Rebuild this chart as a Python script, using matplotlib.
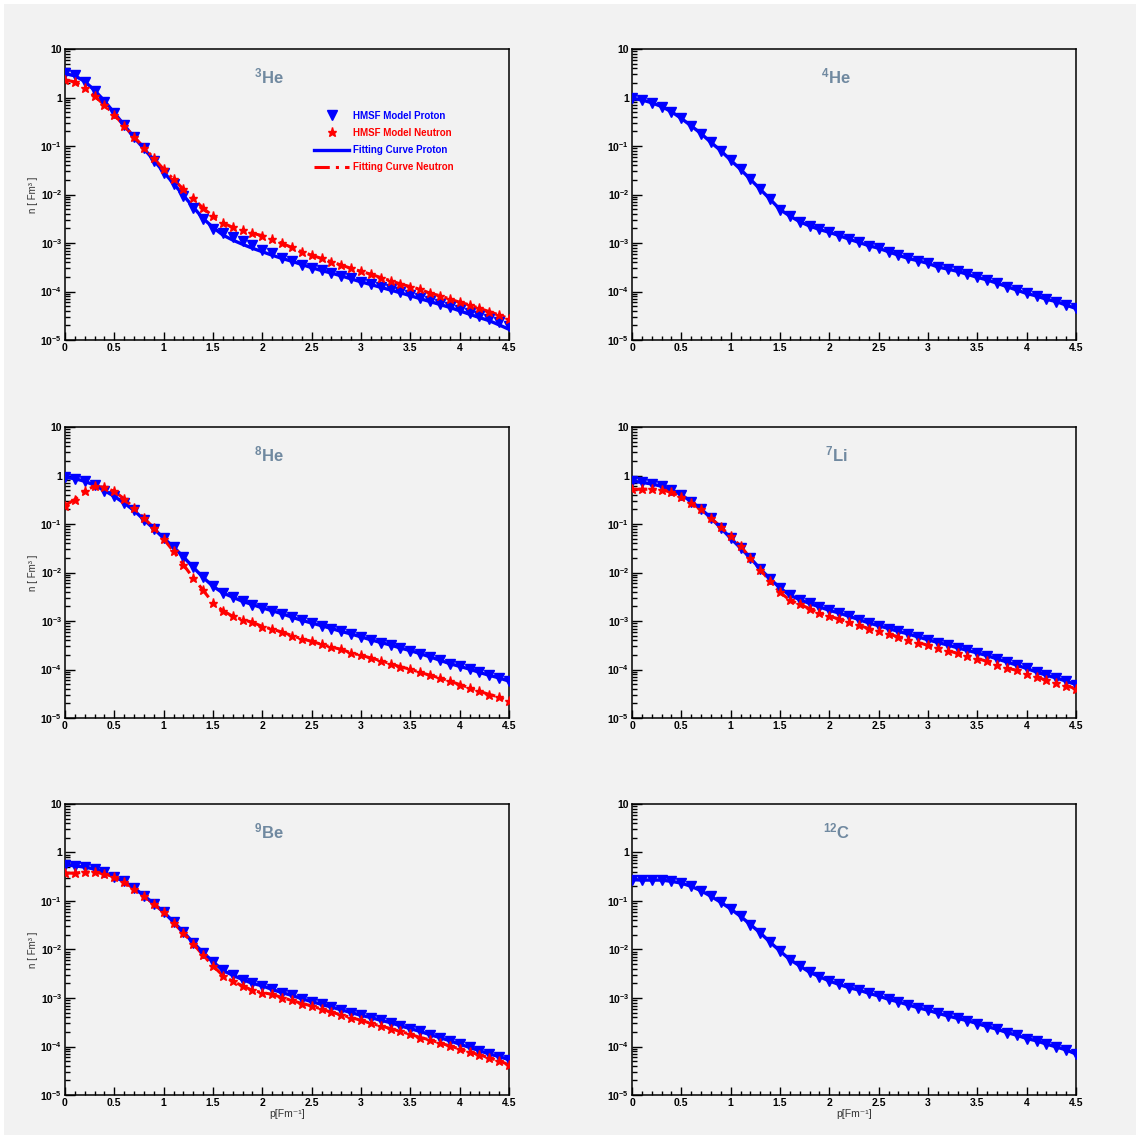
import numpy as np
import matplotlib
matplotlib.use("Agg")
import matplotlib.pyplot as plt
from matplotlib.patches import Rectangle
from matplotlib.ticker import FixedLocator, MultipleLocator, NullFormatter

plt.rcParams['font.family'] = ['Liberation Sans', 'DejaVu Sans']
plt.rcParams['mathtext.fontset'] = 'custom'
plt.rcParams['mathtext.rm'] = 'Liberation Sans:bold'
plt.rcParams['mathtext.it'] = 'Liberation Sans:bold'
plt.rcParams['mathtext.bf'] = 'Liberation Sans:bold'
plt.rcParams['mathtext.default'] = 'rm'

# momentum grid p [Fm^-1]
p = np.linspace(0, 4.5, 46)

# momentum distributions n(p)
he3_p = [3.15, 2.9, 2.1, 1.36, 0.82, 0.47, 0.27, 0.15, 0.089, 0.05,
         0.028, 0.0166, 0.0094, 0.0052, 0.0031, 0.00195, 0.0016, 0.0013, 0.0011, 0.00091,
         0.00072, 0.00063, 0.0005, 0.00043, 0.00036, 0.00031, 0.00028, 0.000245, 0.000213, 0.000187,
         0.000159, 0.000143, 0.000126, 0.000111, 0.000098, 0.000085, 0.000075, 0.000065, 0.000055, 0.000049,
         0.000042, 0.0000355, 0.0000313, 0.0000268, 0.0000231, 0.0000194]
he3_p_fit = [3.1, 2.8, 2.15, 1.4, 0.85, 0.48, 0.27, 0.15, 0.088, 0.051,
             0.029, 0.0168, 0.0096, 0.0055, 0.0032, 0.0021, 0.00146, 0.00115, 0.00094, 0.00078,
             0.00066, 0.00056, 0.00048, 0.00042, 0.00036, 0.00031, 0.00027, 0.00024, 0.00021, 0.000182,
             0.000158, 0.000139, 0.000122, 0.000107, 0.000094, 0.000082, 0.000071, 0.000062, 0.000054, 0.000047,
             0.00004, 0.000034, 0.000029, 0.000025, 0.0000205, 0.0000166]
he3_n = [2.3, 2.1, 1.55, 1.07, 0.70, 0.44, 0.26, 0.155, 0.093, 0.056,
         0.033, 0.0206, 0.0128, 0.0083, 0.0052, 0.0036, 0.0026, 0.0021, 0.00185, 0.00158,
         0.00142, 0.0012, 0.00098, 0.00081, 0.00066, 0.00056, 0.00048, 0.00041, 0.00035, 0.0003,
         0.00026, 0.000227, 0.000194, 0.000167, 0.000143, 0.000126, 0.000111, 0.000092, 0.000082, 0.00007,
         0.00006, 0.000053, 0.000045, 0.0000384, 0.0000328, 0.0000276]

he4_p = [0.96, 0.89, 0.78, 0.65, 0.51, 0.37, 0.26, 0.18, 0.119, 0.08,
         0.051, 0.033, 0.0206, 0.0128, 0.008, 0.0049, 0.0036, 0.00275, 0.00224, 0.0019,
         0.00166, 0.00142, 0.0012, 0.00103, 0.00088, 0.00078, 0.00066, 0.00056, 0.00048, 0.00043,
         0.00038, 0.00032, 0.00029, 0.00026, 0.000226, 0.000196, 0.000173, 0.000148, 0.000126, 0.000107,
         0.000091, 0.000081, 0.000069, 0.000062, 0.0000525, 0.0000447]

he8_p = [0.92, 0.86, 0.76, 0.63, 0.49, 0.37, 0.27, 0.19, 0.123, 0.08,
         0.051, 0.0336, 0.021, 0.0128, 0.0079, 0.0052, 0.0038, 0.0031, 0.00254, 0.00218,
         0.00186, 0.00163, 0.00141, 0.0012, 0.00103, 0.00091, 0.0008, 0.0007, 0.00061, 0.00054,
         0.00047, 0.00041, 0.00036, 0.00032, 0.000277, 0.000245, 0.000212, 0.000182, 0.000155, 0.000132,
         0.000116, 0.000102, 0.000087, 0.000076, 0.000067, 0.0000575]
he8_n = [0.24, 0.32, 0.49, 0.6, 0.57, 0.47, 0.33, 0.214, 0.133, 0.083,
         0.049, 0.0274, 0.0145, 0.0077, 0.0043, 0.00236, 0.00163, 0.00125, 0.00107, 0.00094,
         0.00077, 0.00068, 0.00059, 0.0005, 0.00043, 0.00038, 0.00033, 0.00029, 0.00026, 0.00022,
         0.000196, 0.000173, 0.000152, 0.000132, 0.000113, 0.000102, 0.000087, 0.000076, 0.000067, 0.0000575,
         0.000049, 0.000042, 0.0000356, 0.0000305, 0.0000271, 0.0000219]

li7_p = [0.76, 0.72, 0.67, 0.6, 0.51, 0.40, 0.29, 0.204, 0.133, 0.083,
         0.051, 0.032, 0.0199, 0.0118, 0.0074, 0.0048, 0.0034, 0.00276, 0.0023, 0.00195,
         0.00166, 0.00146, 0.00125, 0.00107, 0.00091, 0.0008, 0.0007, 0.00061, 0.00054, 0.00047,
         0.00041, 0.00036, 0.00032, 0.00028, 0.000248, 0.000219, 0.000193, 0.000165, 0.000143, 0.000123,
         0.000105, 0.000089, 0.000076, 0.000067, 0.0000575, 0.000049]
li7_n = [0.52, 0.52, 0.52, 0.51, 0.45, 0.36, 0.27, 0.2, 0.133, 0.087,
         0.056, 0.035, 0.02, 0.0115, 0.0066, 0.0039, 0.0027, 0.0022, 0.0018, 0.00146,
         0.00125, 0.0011, 0.00094, 0.00081, 0.0007, 0.00061, 0.00054, 0.00047, 0.00041, 0.00036,
         0.000315, 0.000277, 0.000245, 0.000215, 0.000193, 0.000167, 0.000148, 0.000126, 0.000107, 0.000096,
         0.000082, 0.00007, 0.00006, 0.0000526, 0.0000467, 0.00004]

be9_p = [0.56, 0.53, 0.5, 0.455, 0.39, 0.31, 0.253, 0.185, 0.129, 0.088,
         0.059, 0.037, 0.0229, 0.0138, 0.0086, 0.0056, 0.0037, 0.00295, 0.0024, 0.002,
         0.00178, 0.0015, 0.00129, 0.00113, 0.00097, 0.00084, 0.00074, 0.00065, 0.00057, 0.0005,
         0.00044, 0.000395, 0.000347, 0.00031, 0.000266, 0.000234, 0.000204, 0.000175, 0.000153, 0.000131,
         0.000112, 0.000096, 0.000082, 0.00007, 0.000062, 0.0000535]
be9_n = [0.375, 0.375, 0.395, 0.39, 0.365, 0.31, 0.245, 0.18, 0.125, 0.087,
         0.059, 0.035, 0.022, 0.0131, 0.0076, 0.0046, 0.0029, 0.0022, 0.00178, 0.00144,
         0.00129, 0.00119, 0.00102, 0.00089, 0.00077, 0.00069, 0.00059, 0.00051, 0.00045, 0.000395,
         0.000347, 0.0003, 0.000266, 0.000234, 0.000204, 0.000179, 0.000153, 0.000137, 0.000118, 0.000103,
         0.000089, 0.000076, 0.000068, 0.0000578, 0.000051, 0.0000416]

c12_p = [0.275, 0.27, 0.27, 0.27, 0.254, 0.234, 0.2, 0.163, 0.125, 0.094,
         0.0686, 0.0484, 0.0327, 0.022, 0.0141, 0.0093, 0.0062, 0.0046, 0.0034, 0.00275,
         0.00224, 0.0019, 0.00163, 0.00146, 0.00125, 0.0011, 0.00094, 0.00083, 0.00072, 0.00063,
         0.00056, 0.000485, 0.000427, 0.00038, 0.00034, 0.000297, 0.000257, 0.000227, 0.000194, 0.000171,
         0.000146, 0.000131, 0.000112, 0.000098, 0.000085, 0.00007]

# (mass number, element, proton points, proton fit, neutron points)
panels = [
    ('3', 'He', he3_p, he3_p_fit, he3_n),
    ('4', 'He', he4_p, he4_p, None),
    ('8', 'He', he8_p, he8_p, he8_n),
    ('7', 'Li', li7_p, li7_p, li7_n),
    ('9', 'Be', be9_p, be9_p, be9_n),
    ('12', 'C', c12_p, c12_p, None),
]

decades = [1e-5, 1e-4, 1e-3, 1e-2, 1e-1, 1, 10]
decade_labels = [r'$10^{-5}$', r'$10^{-4}$', r'$10^{-3}$', r'$10^{-2}$', r'$10^{-1}$', '1', '10']
minor_y = [m * d for d in decades[:-1] for m in range(2, 10)]

W, H = 1136, 1135
fig = plt.figure(figsize=(W / 100, H / 100), dpi=100)
fig.patch.set_facecolor('white')
fig.patches.append(Rectangle((4 / W, 0), 1 - 4 / W, 1 - 4 / H, transform=fig.transFigure,
                             facecolor='#f2f2f2', edgecolor='none', zorder=-10))

lefts = [65, 632]
tops = [49, 427, 804]
aw, ah = 444, 291
title_color = '#7089a0'
grey = '#f2f2f2'

for i, (mass, elem, prot, prot_fit, neut) in enumerate(panels):
    row, col = divmod(i, 2)
    x0 = lefts[col] / W
    y0 = 1 - (tops[row] + ah) / H
    ax = fig.add_axes([x0, y0, aw / W, ah / H])
    ax.set_facecolor(grey)

    ax.plot(p, prot_fit, color='blue', lw=2.4, zorder=2, label='Fitting Curve Proton')
    if neut is not None:
        ax.plot(p, neut, color='red', lw=2.2, ls=(0, (5, 2, 1, 2)), zorder=2,
                label='Fitting Curve Neutron')
    ax.plot(p, prot, 'v', color='blue', ms=6.5, zorder=3, label='HMSF Model Proton')
    if neut is not None:
        ax.plot(p, neut, '*', color='red', ms=6.5, zorder=3, label='HMSF Model Neutron')

    ax.set_yscale('log')
    ax.set_xlim(0, 4.5)
    ax.set_ylim(1e-5, 10)
    ax.yaxis.set_major_locator(FixedLocator(decades))
    ax.set_yticklabels(decade_labels)
    ax.yaxis.set_minor_locator(FixedLocator(minor_y))
    ax.yaxis.set_minor_formatter(NullFormatter())
    ax.xaxis.set_minor_locator(MultipleLocator(0.1))
    ax.set_xticks(np.arange(0, 4.51, 0.5))
    ax.set_xticklabels(['0', '0.5', '1', '1.5', '2', '2.5', '3', '3.5', '4', '4.5'])

    ax.tick_params(axis='both', which='both', direction='in', top=False, right=False,
                   width=1.0, labelsize=7.5, pad=2)
    ax.tick_params(axis='y', which='major', length=7)
    ax.tick_params(axis='y', which='minor', length=3.5)
    ax.tick_params(axis='x', which='major', length=5.5)
    ax.tick_params(axis='x', which='minor', length=3)
    for lab in ax.get_xticklabels() + ax.get_yticklabels():
        lab.set_fontweight('bold')
    for sp in ax.spines.values():
        sp.set_linewidth(1.1)

    ax.text(0.46, 0.905, r'$^{%s}$%s' % (mass, elem), transform=ax.transAxes,
            ha='center', va='center', fontsize=12, fontweight='bold', color=title_color)

    if col == 0:
        ax.set_ylabel('n [ Fm³ ]', fontsize=7, color='#333333', labelpad=1.5)
    if row == 2:
        ax.set_xlabel('p[Fm⁻¹]', fontsize=7.5, color='#333333', labelpad=1)

    if i == 0:
        h, l = ax.get_legend_handles_labels()
        order = ['HMSF Model Proton', 'HMSF Model Neutron', 'Fitting Curve Proton', 'Fitting Curve Neutron']
        hh = [h[l.index(o)] for o in order]
        ax.legend(hh, order, loc='upper left', bbox_to_anchor=(0.55, 0.805), frameon=False,
                  prop={'weight': 'bold', 'size': 7}, labelcolor=['blue', 'red', 'blue', 'red'],
                  handlelength=3.6, handletextpad=0.45, labelspacing=0.75, borderpad=0,
                  numpoints=1)

fig.savefig('out.png', dpi=100, facecolor=fig.get_facecolor())
